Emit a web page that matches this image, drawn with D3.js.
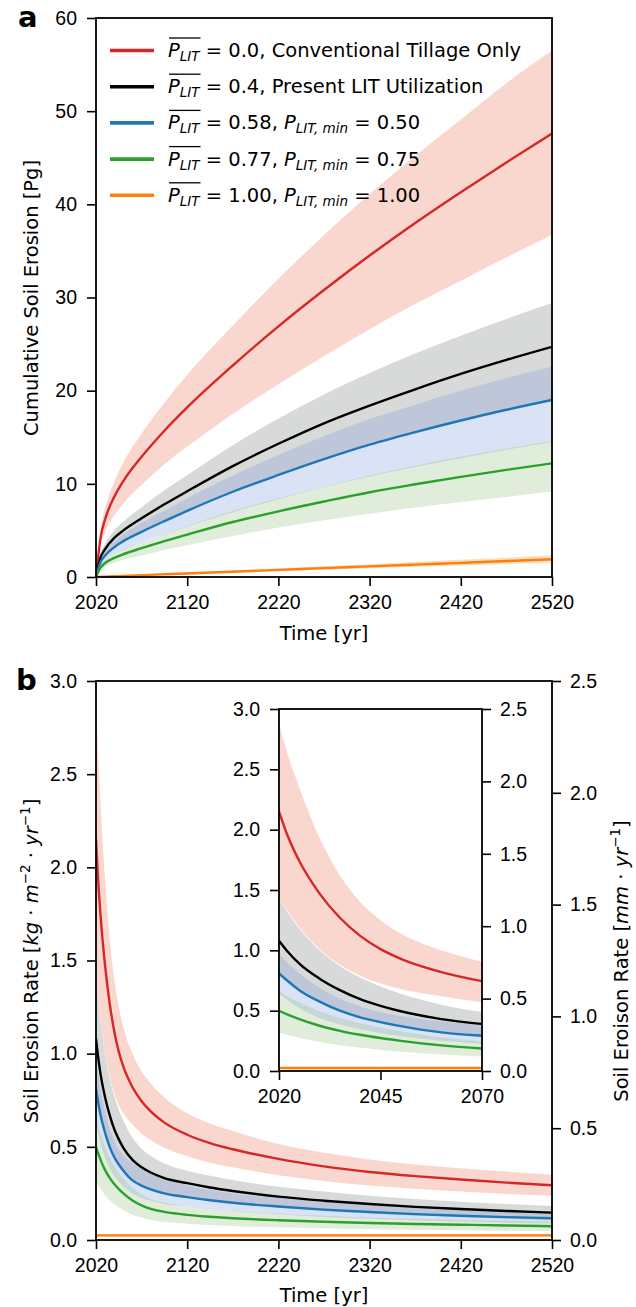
<!DOCTYPE html>
<meta charset="utf-8">
<style>
    body { margin: 0; background: #fff; }
    svg { font-family: "DejaVu Sans", sans-serif; }
    .tick text { font-size: 19.5px; }
</style>
<svg width="636" height="1307"></svg>
<script src="https://d3js.org/d3.v7.min.js"></script>
<script>
    // ---- data ----
    var yearsA = [2020, 2025, 2030, 2040, 2050, 2070, 2095, 2120, 2170, 2220, 2270, 2320, 2370, 2420, 2470, 2520];

    var redA      = [0, 4.2, 6.2, 8.6, 10.3, 12.9, 15.7, 18.2, 22.7, 26.9, 30.8, 34.5, 38.0, 41.3, 44.5, 47.6];
    var redA_hi   = [0, 5.0, 7.4, 10.2, 12.3, 15.4, 18.7, 21.7, 27.0, 32.0, 36.7, 41.1, 45.2, 49.1, 53.0, 56.5];
    var redA_lo   = [0, 3.2, 4.8, 6.6, 7.9, 9.9, 12.1, 14.0, 17.5, 20.7, 23.7, 26.6, 29.3, 31.8, 34.3, 36.7];
    var blackA    = [0, 2.1, 3.0, 4.2, 5.0, 6.3, 7.8, 9.2, 11.9, 14.3, 16.5, 18.4, 20.15, 21.8, 23.3, 24.7];
    var blackA_hi = [0, 2.5, 3.6, 5.0, 5.95, 7.5, 9.3, 10.95, 14.15, 17.0, 19.6, 21.9, 24.0, 25.9, 27.7, 29.4];
    var blackA_lo = [0, 1.6, 2.3, 3.2, 3.85, 4.85, 6.0, 7.1, 9.15, 10.95, 12.65, 14.2, 15.55, 16.8, 17.95, 19.0];
    var blueA     = [0, 1.6, 2.3, 3.2, 3.85, 4.85, 6.0, 7.1, 9.15, 10.95, 12.65, 14.2, 15.55, 16.8, 17.95, 19.0];
    var blueA_hi  = [0, 1.9, 2.75, 3.8, 4.6, 5.8, 7.1, 8.45, 10.9, 13.1, 15.1, 16.95, 18.5, 20.0, 21.35, 22.6];
    var blueA_lo  = [0, 1.2, 1.75, 2.45, 2.9, 3.7, 4.55, 5.4, 6.95, 8.35, 9.65, 10.8, 11.8, 12.75, 13.65, 14.5];
    var greenA    = [0, 1.0, 1.5, 2.05, 2.45, 3.1, 3.85, 4.55, 5.9, 7.05, 8.1, 9.1, 9.95, 10.75, 11.5, 12.2];
    var greenA_hi = [0, 1.2, 1.8, 2.45, 2.95, 3.7, 4.6, 5.45, 7.1, 8.45, 9.7, 10.9, 11.95, 12.9, 13.8, 14.6];
    var greenA_lo = [0, 0.75, 1.1, 1.55, 1.85, 2.3, 2.9, 3.4, 4.4, 5.3, 6.1, 6.8, 7.45, 8.05, 8.6, 9.2];
    var orangeA    = [0, 0.02, 0.04, 0.08, 0.11, 0.19, 0.29, 0.38, 0.57, 0.76, 0.95, 1.14, 1.33, 1.52, 1.71, 1.9];
    var orangeA_hi = [0, 0.02, 0.05, 0.1, 0.14, 0.23, 0.35, 0.46, 0.69, 0.92, 1.15, 1.38, 1.61, 1.84, 2.07, 2.3];
    var orangeA_lo = [0, 0.015, 0.03, 0.06, 0.09, 0.16, 0.23, 0.31, 0.47, 0.62, 0.78, 0.93, 1.09, 1.24, 1.4, 1.55];

    var yearsB = [2020, 2022, 2025, 2030, 2035, 2040, 2045, 2050, 2060, 2070, 2080, 2095, 2120, 2145, 2170, 2220, 2270, 2320, 2370, 2420, 2470, 2520];

    var redB      = [2.15, 1.96, 1.74, 1.47, 1.27, 1.12, 1.01, 0.93, 0.82, 0.745, 0.69, 0.63, 0.565, 0.52, 0.487, 0.435, 0.395, 0.365, 0.343, 0.325, 0.308, 0.294];
    var redB_hi   = [2.88, 2.64, 2.35, 1.93, 1.62, 1.40, 1.25, 1.14, 1.00, 0.905, 0.84, 0.765, 0.68, 0.625, 0.585, 0.515, 0.468, 0.432, 0.405, 0.385, 0.367, 0.35];
    var redB_lo   = [1.43, 1.33, 1.19, 1.01, 0.88, 0.79, 0.725, 0.68, 0.62, 0.57, 0.535, 0.495, 0.45, 0.415, 0.39, 0.348, 0.317, 0.293, 0.275, 0.26, 0.247, 0.237];
    var blackB    = [1.08, 0.995, 0.89, 0.765, 0.67, 0.595, 0.54, 0.495, 0.43, 0.39, 0.362, 0.332, 0.305, 0.282, 0.263, 0.233, 0.211, 0.193, 0.178, 0.166, 0.156, 0.147];
    var blackB_hi = [1.43, 1.32, 1.18, 1.0, 0.87, 0.775, 0.70, 0.64, 0.55, 0.49, 0.452, 0.41, 0.372, 0.345, 0.322, 0.286, 0.26, 0.238, 0.22, 0.205, 0.193, 0.183];
    var blackB_lo = [0.80, 0.74, 0.665, 0.57, 0.5, 0.445, 0.405, 0.37, 0.32, 0.29, 0.27, 0.247, 0.227, 0.21, 0.196, 0.173, 0.156, 0.142, 0.131, 0.122, 0.114, 0.107];
    var blueB     = [0.81, 0.75, 0.67, 0.575, 0.5, 0.445, 0.405, 0.372, 0.32, 0.292, 0.272, 0.25, 0.23, 0.213, 0.2, 0.18, 0.163, 0.15, 0.139, 0.13, 0.123, 0.117];
    var blueB_hi  = [0.97, 0.9, 0.81, 0.69, 0.6, 0.535, 0.487, 0.455, 0.41, 0.38, 0.355, 0.325, 0.292, 0.268, 0.25, 0.225, 0.205, 0.19, 0.176, 0.165, 0.156, 0.148];
    var blueB_lo  = [0.64, 0.59, 0.52, 0.44, 0.385, 0.345, 0.312, 0.287, 0.25, 0.226, 0.21, 0.193, 0.178, 0.165, 0.154, 0.137, 0.124, 0.114, 0.106, 0.099, 0.093, 0.088];
    var greenB    = [0.5, 0.47, 0.43, 0.375, 0.333, 0.3, 0.273, 0.25, 0.212, 0.186, 0.167, 0.151, 0.135, 0.125, 0.117, 0.106, 0.098, 0.091, 0.086, 0.082, 0.078, 0.074];
    var greenB_hi = [0.66, 0.62, 0.57, 0.495, 0.44, 0.395, 0.36, 0.33, 0.28, 0.245, 0.22, 0.2, 0.178, 0.165, 0.155, 0.14, 0.13, 0.121, 0.114, 0.108, 0.104, 0.10];
    var greenB_lo = [0.32, 0.3, 0.275, 0.24, 0.213, 0.192, 0.175, 0.16, 0.136, 0.12, 0.108, 0.097, 0.087, 0.08, 0.075, 0.068, 0.063, 0.059, 0.055, 0.052, 0.05, 0.048];
    var orangeB    = [0.025, 0.025, 0.025, 0.025, 0.025, 0.025, 0.025, 0.025, 0.025, 0.025, 0.025, 0.025, 0.025, 0.025, 0.025, 0.025, 0.025, 0.025, 0.025, 0.025, 0.025, 0.025];
    var orangeB_hi = [0.032, 0.032, 0.032, 0.032, 0.032, 0.032, 0.032, 0.032, 0.032, 0.032, 0.032, 0.032, 0.032, 0.032, 0.032, 0.032, 0.032, 0.032, 0.032, 0.032, 0.032, 0.032];
    var orangeB_lo = [0.018, 0.018, 0.018, 0.018, 0.018, 0.018, 0.018, 0.018, 0.018, 0.018, 0.018, 0.018, 0.018, 0.018, 0.018, 0.018, 0.018, 0.018, 0.018, 0.018, 0.018, 0.018];

    var xTicks = [2020, 2120, 2220, 2320, 2420, 2520];
    var yTicksA = [0, 10, 20, 30, 40, 50, 60];
    var yTicksB = [0, 0.5, 1.0, 1.5, 2.0, 2.5, 3.0];
    var yTicksMM = [0, 0.5, 1.0, 1.5, 2.0, 2.5];
    var insetXTicks = [2020, 2045, 2070];

    // legend: mean P_LIT, then label or P_LIT,min
    var legendMean = ["0.0", "0.4", "0.58", "0.77", "1.00"];
    var legendRest = [", Conventional Tillage Only", ", Present LIT Utilization", "0.50", "0.75", "1.00"];

    var colors = ["#d62728", "#000000", "#1f77b4", "#2ca02c", "#ff7f0e"];
    var bandColors = ["#ec7a5c", "#8e9696", "#7a97dc", "#82b870", "#ff9a40"];
    var bandOpacity = [0.3, 0.35, 0.28, 0.25, 0.35];

    var FS = 19.5;
    var svg = d3.select("svg");
    var defs = svg.append("defs");

    function series(years, m, lo, hi) {
        return years.map(function (y, i) { return { year: y, m: m[i], lo: lo[i], hi: hi[i] }; });
    }
    var seriesA = [
        series(yearsA, redA, redA_lo, redA_hi),
        series(yearsA, blackA, blackA_lo, blackA_hi),
        series(yearsA, blueA, blueA_lo, blueA_hi),
        series(yearsA, greenA, greenA_lo, greenA_hi),
        series(yearsA, orangeA, orangeA_lo, orangeA_hi)
    ];
    var seriesB = [
        series(yearsB, redB, redB_lo, redB_hi),
        series(yearsB, blackB, blackB_lo, blackB_hi),
        series(yearsB, blueB, blueB_lo, blueB_hi),
        series(yearsB, greenB, greenB_lo, greenB_hi),
        series(yearsB, orangeB, orangeB_lo, orangeB_hi)
    ];

    function drawSeries(g, data, x, y, lw) {
        var area = d3.area().curve(d3.curveMonotoneX)
            .x(function (d) { return x(d.year); })
            .y0(function (d) { return y(d.lo); })
            .y1(function (d) { return y(d.hi); });
        var line = d3.line().curve(d3.curveMonotoneX)
            .x(function (d) { return x(d.year); })
            .y(function (d) { return y(d.m); });
        data.forEach(function (s, i) {
            g.append("path").attr("d", area(s))
                .attr("fill", bandColors[i]).attr("fill-opacity", bandOpacity[i]);
        });
        data.forEach(function (s, i) {
            g.append("path").attr("d", line(s))
                .attr("fill", "none").attr("stroke", colors[i]).attr("stroke-width", lw);
        });
    }

    function clip(id, x0, x1, y0, y1) {
        defs.append("clipPath").attr("id", id)
            .append("rect").attr("x", x0).attr("y", y0).attr("width", x1 - x0).attr("height", y1 - y0);
        return svg.append("g").attr("clip-path", "url(#" + id + ")");
    }

    function axis(gen, tx, ty) {
        var ax = svg.append("g").attr("transform", "translate(" + tx + "," + ty + ")").call(gen);
        ax.select(".domain").remove();
        ax.selectAll(".tick line").attr("stroke", "#000").attr("stroke-width", 1.6);
        ax.selectAll(".tick text").attr("fill", "#000");
        return ax;
    }

    function frame(x0, x1, y0, y1) {
        svg.append("rect").attr("x", x0).attr("y", y0).attr("width", x1 - x0).attr("height", y1 - y0)
            .attr("fill", "none").attr("stroke", "#000").attr("stroke-width", 1.8);
    }

    // ---- panel a ----
    var L = 96, R = 552, TA = 18, BA = 577;
    var xA = d3.scaleLinear().domain([2020, 2520]).range([L, R]);
    var yA = d3.scaleLinear().domain([0, 60]).range([BA, TA]);

    drawSeries(clip("clipA", L, R, TA, BA), seriesA, xA, yA, 2.4);
    axis(d3.axisBottom(xA).tickValues(xTicks).tickFormat(d3.format("d")).tickSize(9).tickPadding(9), 0, BA);
    axis(d3.axisLeft(yA).tickValues(yTicksA).tickFormat(d3.format("d")).tickSize(9).tickPadding(10), L, 0);
    frame(L, R, TA, BA);

    svg.append("text").attr("x", (L + R) / 2).attr("y", 640).attr("text-anchor", "middle")
        .attr("font-size", FS).text("Time [yr]");
    svg.append("text").attr("transform", "translate(38,298)rotate(-90)")
        .attr("text-anchor", "middle").attr("font-size", FS).text("Cumulative Soil Erosion [Pg]");
    svg.append("text").attr("x", 18).attr("y", 27).attr("font-size", 29).attr("font-weight", "bold").text("a");

    // legend
    var legY0 = 50.5, legDy = 36.2;
    legendMean.forEach(function (m, i) {
        var yy = legY0 + i * legDy;
        svg.append("line").attr("x1", 110).attr("x2", 154).attr("y1", yy).attr("y2", yy)
            .attr("stroke", colors[i]).attr("stroke-width", 3.6);
        var t = svg.append("text").attr("x", 168).attr("y", yy + 6.5).attr("font-size", FS);
        t.append("tspan").attr("font-style", "italic").text("P");
        t.append("tspan").attr("font-style", "italic").attr("font-size", 13.5).attr("dy", 4).text("LIT");
        var pw = t.node().getComputedTextLength();
        svg.append("line").attr("x1", 169).attr("x2", 168 + pw + 1).attr("y1", yy - 12.5).attr("y2", yy - 12.5)
            .attr("stroke", "#000").attr("stroke-width", 1.3);
        t.append("tspan").attr("dy", -4).text(" = " + m);
        if (i < 2) {
            t.append("tspan").text(legendRest[i]);
        } else {
            t.append("tspan").text(", ");
            t.append("tspan").attr("font-style", "italic").text("P");
            t.append("tspan").attr("font-style", "italic").attr("font-size", 13.5).attr("dy", 4).text("LIT, min");
            t.append("tspan").attr("dy", -4).text(" = " + legendRest[i]);
        }
    });

    // ---- panel b ----
    var TB = 681, BB = 1240;
    var xB = d3.scaleLinear().domain([2020, 2520]).range([L, R]);
    var yB = d3.scaleLinear().domain([0, 3]).range([BB, TB]);
    var yBmm = d3.scaleLinear().domain([0, 2.5]).range([BB, TB]);

    drawSeries(clip("clipB", L, R, TB, BB), seriesB, xB, yB, 2.4);
    axis(d3.axisBottom(xB).tickValues(xTicks).tickFormat(d3.format("d")).tickSize(9).tickPadding(9), 0, BB);
    axis(d3.axisLeft(yB).tickValues(yTicksB).tickFormat(d3.format(".1f")).tickSize(9).tickPadding(10), L, 0);
    axis(d3.axisRight(yBmm).tickValues(yTicksMM).tickFormat(d3.format(".1f")).tickSize(9).tickPadding(9), R, 0);
    frame(L, R, TB, BB);

    svg.append("text").attr("x", (L + R) / 2).attr("y", 1302).attr("text-anchor", "middle")
        .attr("font-size", FS).text("Time [yr]");
    var lb = svg.append("text").attr("transform", "translate(38,961)rotate(-90)")
        .attr("text-anchor", "middle").attr("font-size", FS);
    lb.append("tspan").text("Soil Erosion Rate [");
    lb.append("tspan").attr("font-style", "italic").text("kg");
    lb.append("tspan").text(" · ");
    lb.append("tspan").attr("font-style", "italic").text("m");
    lb.append("tspan").attr("font-size", 13.5).attr("dy", -8).text("−2");
    lb.append("tspan").attr("dy", 8).text(" · ");
    lb.append("tspan").attr("font-style", "italic").text("yr");
    lb.append("tspan").attr("font-size", 13.5).attr("dy", -8).text("−1");
    lb.append("tspan").attr("dy", 8).text("]");
    var rb = svg.append("text").attr("transform", "translate(628,961)rotate(-90)")
        .attr("text-anchor", "middle").attr("font-size", FS);
    rb.append("tspan").text("Soil Eroison Rate [");
    rb.append("tspan").attr("font-style", "italic").text("mm");
    rb.append("tspan").text(" · ");
    rb.append("tspan").attr("font-style", "italic").text("yr");
    rb.append("tspan").attr("font-size", 13.5).attr("dy", -8).text("−1");
    rb.append("tspan").attr("dy", 8).text("]");
    svg.append("text").attr("x", 16).attr("y", 690).attr("font-size", 29).attr("font-weight", "bold").text("b");

    // ---- inset ----
    var IL = 279, IR = 482, IT = 709, IB = 1071;
    var xI = d3.scaleLinear().domain([2020, 2070]).range([IL, IR]);
    var yI = d3.scaleLinear().domain([0, 3]).range([IB, IT]);
    var yImm = d3.scaleLinear().domain([0, 2.5]).range([IB, IT]);
    svg.append("rect").attr("x", IL).attr("y", IT).attr("width", IR - IL).attr("height", IB - IT).attr("fill", "#fff");
    var insetData = seriesB.map(function (s) { return s.filter(function (d) { return d.year <= 2095; }); });
    drawSeries(clip("clipI", IL, IR, IT, IB), insetData, xI, yI, 2.4);
    axis(d3.axisBottom(xI).tickValues(insetXTicks).tickFormat(d3.format("d")).tickSize(9).tickPadding(9), 0, IB);
    axis(d3.axisLeft(yI).tickValues(yTicksB).tickFormat(d3.format(".1f")).tickSize(9).tickPadding(10), IL, 0);
    axis(d3.axisRight(yImm).tickValues(yTicksMM).tickFormat(d3.format(".1f")).tickSize(9).tickPadding(9), IR, 0);
    frame(IL, IR, IT, IB);
</script>
